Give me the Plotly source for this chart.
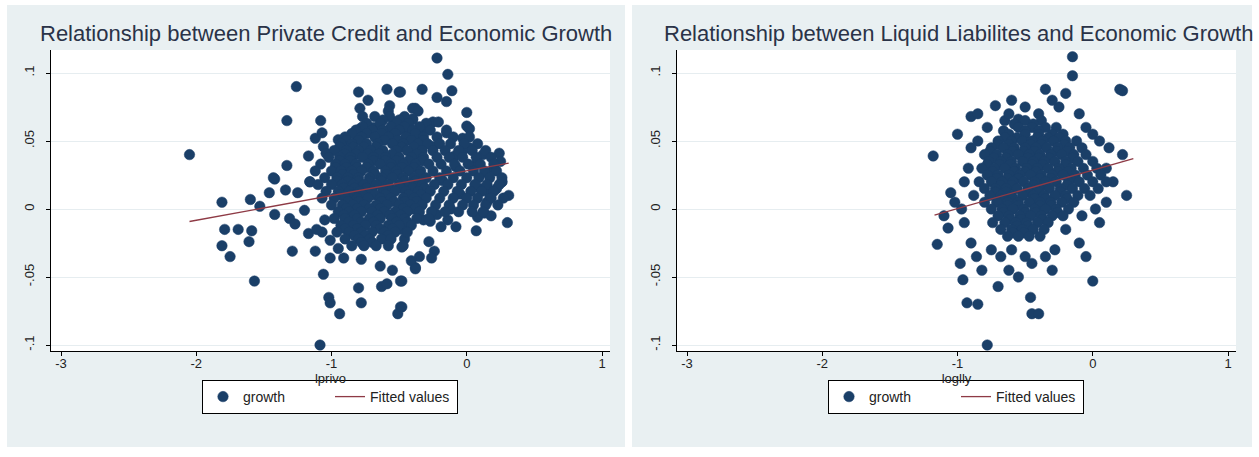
import plotly.graph_objects as go

# ---------------- data ----------------
# Left panel: growth vs lprivo (log private credit)
privo_x = [
    -2.05, -1.81, -1.79, -1.69, -1.59, -1.81, -1.75, -1.61, -1.57, -1.60,
    -1.53, -1.42, -1.46, -1.34, -1.42, -1.29, -1.25, -1.16, -1.31, -1.27,
    -1.17, -1.12, -1.06, -1.02, -1.01, -0.94, -0.80, -0.78, -0.63, -0.59,
    -0.49, -0.49, -0.51, -0.55, -0.64, -0.38, -0.48, -0.78, -0.91, -1.01,
    -0.95, -1.07, -1.01, -1.11, -1.05, -1.20, -1.085,
    -1.26, -1.33, -1.08, -1.12, -1.07, -1.17, -1.33, -1.43, -1.16, -1.06,
    -1.04, -0.95, -0.91, -0.80, -0.73, -0.79, -0.77, -0.59, -0.50, -0.57,
    -0.58, -0.54, -0.38, -0.40, -0.44, -0.43, -0.79, -0.69, -0.59, -0.81,
    -0.22, -0.14, -0.33, -0.11, -0.22, -0.15, -0.49, -0.40, -0.36, -0.40,
    0.00, -0.25, -0.21, 0.00, 0.02, -0.44, -0.33, -0.15, -0.44, -0.37,
    -0.03, 0.24, 0.26, 0.14, 0.07, -0.09, 0.26, 0.31, 0.13, 0.30,
    0.07, -0.08, -0.14, -0.19, -0.32, -0.27, -0.40, -0.42, -0.28, -0.24,
    -0.26, -0.35, -0.41, -0.38, -0.46, -0.47, -0.48, -0.48, -0.48, 0.17,
    0.15,
    -0.25, -0.08, 0.02, 0.10, 0.20, -0.18, -0.05, 0.15, 0.25, -0.12,
    0.08, -0.22, 0.18, -0.03, 0.12, 0.22,
]
privo_y = [
    0.040, 0.005, -0.015, -0.015, -0.016, -0.027, -0.035, -0.024, -0.053, 0.007,
    0.002, 0.022, 0.012, 0.014, -0.004, -0.031, 0.012, 0.020, -0.007, -0.011,
    -0.018, -0.031, -0.048, -0.065, -0.069, -0.077, -0.058, -0.069, -0.057, -0.055,
    -0.053, -0.072, -0.077, -0.045, -0.042, -0.043, -0.028, -0.037, -0.036, -0.036,
    -0.029, -0.017, -0.023, -0.015, -0.008, -0.001, -0.100,
    0.090, 0.065, 0.065, 0.052, 0.056, 0.039, 0.032, 0.023, 0.020, 0.046,
    0.041, 0.051, 0.050, 0.086, 0.080, 0.074, 0.068, 0.088, 0.086, 0.076,
    0.072, 0.064, 0.074, 0.066, 0.059, 0.051, 0.059, 0.060, 0.057, 0.051,
    0.111, 0.099, 0.088, 0.087, 0.082, 0.079, 0.086, 0.074, 0.072, 0.066,
    0.071, 0.064, 0.064, 0.061, 0.059, 0.059, 0.058, 0.056, 0.051, 0.051,
    0.043, 0.041, 0.020, 0.027, 0.033, 0.039, 0.020, 0.010, -0.003, -0.010,
    -0.016, -0.013, -0.008, -0.013, -0.008, -0.009, 0.000, 0.001, -0.024, -0.031,
    -0.036, -0.035, -0.038, -0.044, -0.022, -0.027, -0.015, -0.053, -0.072, 0.010,
    0.015,
    0.046, 0.031, 0.045, 0.015, 0.030, 0.021, 0.011, 0.005, 0.035, 0.000,
    -0.006, -0.004, -0.005, 0.052, 0.040, 0.015,
]
# dense core of the left cloud, listed row by row (growth level, lprivo values)
privo_core = [
    (0.068, [-0.68, -0.57, -0.46]),
    (0.0655, [-0.62, -0.50]),
    (0.063, [-0.74, -0.64, -0.52, -0.43, -0.30]),
    (0.0605, [-0.77, -0.56, -0.46, -0.35]),
    (0.058, [-0.82, -0.70, -0.62, -0.50, -0.40, -0.27, -0.15]),
    (0.0555, [-0.85, -0.74, -0.63, -0.53, -0.38]),
    (0.053, [-0.90, -0.78, -0.68, -0.58, -0.45, -0.32, -0.22, -0.10, 0.02]),
    (0.0505, [-0.89, -0.80, -0.61, -0.51, -0.41, -0.32]),
    (0.048, [-0.93, -0.85, -0.74, -0.66, -0.55, -0.47, -0.36, -0.29, -0.20, -0.12, -0.02, 0.08]),
    (0.0455, [-0.94, -0.84, -0.76, -0.67, -0.48, -0.39]),
    (0.043, [-0.98, -0.89, -0.80, -0.71, -0.62, -0.52, -0.44, -0.33, -0.25, -0.16, -0.06, 0.04, 0.14]),
    (0.0405, [-0.90, -0.82, -0.73, -0.65, -0.55, -0.37]),
    (0.038, [-1.02, -0.94, -0.86, -0.77, -0.69, -0.60, -0.50, -0.41, -0.32, -0.22, -0.13, -0.03, 0.07, 0.18]),
    (0.0355, [-0.94, -0.86, -0.69, -0.60, -0.52, -0.43, -0.33]),
    (0.033, [-1.08, -0.97, -0.90, -0.82, -0.73, -0.64, -0.56, -0.47, -0.38, -0.28, -0.19, -0.09, 0.01, 0.10, 0.20]),
    (0.0305, [-0.97, -0.89, -0.81, -0.74, -0.56, -0.48, -0.39]),
    (0.028, [-1.12, -1.00, -0.93, -0.85, -0.78, -0.69, -0.60, -0.52, -0.43, -0.34, -0.25, -0.15, -0.05, 0.05, 0.13, 0.22]),
    (0.0255, [-0.92, -0.84, -0.68, -0.59, -0.51, -0.35]),
    (0.023, [-1.05, -0.96, -0.88, -0.80, -0.72, -0.63, -0.55, -0.47, -0.39, -0.30, -0.20, -0.10, 0.00, 0.09, 0.17, 0.26]),
    (0.0205, [-0.96, -0.88, -0.80, -0.72, -0.63, -0.46, -0.38]),
    (0.018, [-1.10, -1.00, -0.92, -0.84, -0.76, -0.67, -0.58, -0.50, -0.42, -0.33, -0.24, -0.14, -0.04, 0.06, 0.15, 0.24]),
    (0.0155, [-0.91, -0.83, -0.74, -0.57, -0.49, -0.40, -0.31]),
    (0.013, [-1.04, -0.95, -0.87, -0.79, -0.70, -0.62, -0.53, -0.45, -0.36, -0.27, -0.17, -0.07, 0.03, 0.11, 0.20]),
    (0.0105, [-0.94, -0.85, -0.77, -0.68, -0.60, -0.43, -0.34]),
    (0.008, [-1.07, -0.98, -0.90, -0.81, -0.73, -0.64, -0.56, -0.47, -0.39, -0.30, -0.20, -0.10, 0.00, 0.08, 0.18, 0.27]),
    (0.0055, [-0.88, -0.80, -0.63, -0.54, -0.46, -0.37]),
    (0.003, [-1.00, -0.92, -0.84, -0.76, -0.67, -0.59, -0.50, -0.42, -0.33, -0.23, -0.13, -0.03, 0.05, 0.14, 0.23]),
    (0.0005, [-0.89, -0.81, -0.72, -0.64, -0.47, -0.38]),
    (-0.002, [-0.95, -0.87, -0.78, -0.70, -0.61, -0.53, -0.44, -0.35, -0.26, -0.16, -0.06, 0.04, 0.12]),
    (-0.0045, [-0.91, -0.83, -0.66, -0.57, -0.49]),
    (-0.007, [-0.98, -0.90, -0.81, -0.72, -0.64, -0.55, -0.46, -0.37, -0.28]),
    (-0.0095, [-0.87, -0.78, -0.69, -0.52, -0.44]),
    (-0.012, [-0.93, -0.84, -0.75, -0.67, -0.58, -0.50, -0.41]),
    (-0.0145, [-0.90, -0.81, -0.64, -0.55]),
    (-0.017, [-0.96, -0.87, -0.78, -0.70, -0.61, -0.53, -0.44]),
    (-0.0195, [-0.83, -0.75, -0.58]),
    (-0.022, [-0.90, -0.80, -0.72, -0.63, -0.56]),
    (-0.0245, [-0.78, -0.70]),
    (-0.027, [-0.85, -0.76, -0.67, -0.58]),
]
privo_fit_x = [-2.05, 0.31]
privo_fit_y = [-0.0092, 0.0337]

# Right panel: growth vs loglly (log liquid liabilities)
lly_x = [
    -1.18, -1.07, -1.15, -1.05, -0.97, -0.98, -0.96, -0.93, -0.85, -0.78,
    -0.70, -0.62, -0.55, -0.45, -0.40, -0.46, -0.35, -0.28, -0.10, -0.05,
    0.00, 0.05, 0.10, 0.22, 0.25, 0.20, 0.22, 0.00, -0.15, -0.15,
    -0.20, -0.35, -0.50, -0.55, -0.65, -0.90, -0.85, -1.00, -0.90, -0.95,
    -1.10, -0.72, -0.60,
    -0.92, -0.88, -0.95, -0.90, -0.86, -1.02, -0.82, -0.75, -0.68, -0.60,
    -0.50, -0.45, -0.30, -0.20, -0.08, 0.02, 0.10, 0.15, 0.12, 0.05,
    -0.05, -0.10, -0.25, -0.40, -0.30, -0.62, -0.78, -0.85,
]
lly_y = [
    0.039, -0.014, -0.026, 0.012, 0.000, -0.040, -0.052, -0.069, -0.070, -0.100,
    -0.057, -0.045, -0.050, -0.077, -0.077, -0.065, -0.035, -0.030, -0.025, -0.035,
    -0.053, -0.010, 0.005, 0.040, 0.010, 0.088, 0.087, 0.055, 0.112, 0.098,
    0.085, 0.088, 0.075, 0.066, 0.065, 0.068, 0.070, 0.055, 0.045, 0.020,
    -0.005, 0.076, 0.080,
    0.030, 0.010, -0.010, -0.025, -0.035, 0.005, -0.045, -0.030, -0.035, -0.030,
    -0.035, -0.040, -0.045, -0.015, -0.005, 0.000, 0.030, 0.020, 0.045, 0.050,
    0.060, 0.070, 0.075, 0.070, 0.080, 0.070, 0.060, 0.050,
]
lly_core = [
    (0.065, [-0.50, -0.38]),
    (0.0625, [-0.58, -0.44]),
    (0.060, [-0.55, -0.45, -0.35, -0.27]),
    (0.0575, [-0.66, -0.50, -0.40]),
    (0.055, [-0.62, -0.50, -0.40, -0.30, -0.22]),
    (0.0525, [-0.65, -0.56, -0.41, -0.33, -0.25]),
    (0.050, [-0.70, -0.60, -0.52, -0.45, -0.37, -0.29, -0.20, -0.12]),
    (0.0475, [-0.70, -0.62, -0.46, -0.38, -0.21]),
    (0.045, [-0.75, -0.66, -0.58, -0.50, -0.42, -0.34, -0.26, -0.17, -0.08]),
    (0.0425, [-0.76, -0.59, -0.51, -0.43, -0.27, -0.19]),
    (0.040, [-0.80, -0.71, -0.63, -0.55, -0.47, -0.39, -0.31, -0.23, -0.14, -0.05]),
    (0.0375, [-0.73, -0.64, -0.48, -0.40, -0.32, -0.15]),
    (0.035, [-0.77, -0.68, -0.60, -0.52, -0.44, -0.36, -0.28, -0.20, -0.11, 0.00]),
    (0.0325, [-0.78, -0.69, -0.61, -0.45, -0.37, -0.20]),
    (0.030, [-0.82, -0.73, -0.65, -0.57, -0.49, -0.41, -0.33, -0.25, -0.16, -0.07, 0.03]),
    (0.0275, [-0.74, -0.58, -0.50, -0.42, -0.26, -0.18]),
    (0.025, [-0.78, -0.70, -0.62, -0.54, -0.46, -0.38, -0.30, -0.22, -0.13, -0.04, 0.06]),
    (0.0225, [-0.71, -0.63, -0.55, -0.39, -0.31, -0.14]),
    (0.020, [-0.84, -0.75, -0.67, -0.59, -0.51, -0.43, -0.35, -0.27, -0.18, -0.10, 0.00, 0.10]),
    (0.0175, [-0.68, -0.60, -0.44, -0.36, -0.19]),
    (0.015, [-0.80, -0.72, -0.64, -0.56, -0.48, -0.40, -0.32, -0.24, -0.15, -0.06, 0.04]),
    (0.0125, [-0.72, -0.64, -0.48, -0.40, -0.24]),
    (0.010, [-0.76, -0.68, -0.60, -0.52, -0.44, -0.36, -0.28, -0.20, -0.11, -0.02]),
    (0.0075, [-0.67, -0.59, -0.43, -0.35, -0.19]),
    (0.005, [-0.80, -0.71, -0.63, -0.55, -0.47, -0.39, -0.31, -0.23, -0.14]),
    (0.0025, [-0.63, -0.55, -0.39, -0.31]),
    (0.000, [-0.75, -0.67, -0.59, -0.51, -0.43, -0.35, -0.27, -0.18]),
    (-0.0025, [-0.66, -0.50, -0.42, -0.26]),
    (-0.005, [-0.70, -0.62, -0.54, -0.46, -0.38, -0.30, -0.22]),
    (-0.0075, [-0.61, -0.53, -0.37]),
    (-0.010, [-0.74, -0.65, -0.57, -0.49, -0.41, -0.33]),
    (-0.0125, [-0.56, -0.48]),
    (-0.015, [-0.68, -0.60, -0.52, -0.44, -0.36]),
    (-0.0175, [-0.59, -0.51]),
    (-0.020, [-0.63, -0.55, -0.47, -0.39]),
]
lly_fit_x = [-1.17, 0.30]
lly_fit_y = [-0.0045, 0.0370]

x_ticks = [-3, -2, -1, 0, 1]
y_ticks = [0.1, 0.05, 0.0, -0.05, -0.1]
y_ticktext = [".1", ".05", "0", "-.05", "-.1"]

titles = ["Relationship between Private Credit and Economic Growth",
          "Relationship between Liquid Liabilites and Economic Growth"]
x_titles = ["lprivo", "loglly"]


def expand(xs, ys, core):
    ax, ay = list(xs), list(ys)
    for yv, row in core:
        for xv in row:
            ax.append(xv)
            ay.append(yv)
    return ax, ay


# ---------------- styling ----------------
W, H = 1259, 457
NAVY = "#1a3f68"
MAROON = "#8e3a45"
PANEL = "#e9f0f2"
GRID = "#e6edf0"
FONT = "Liberation Sans, Arial, sans-serif"

px_l = (51, 610)     # plot area, left panel (pixels)
px_r = (677, 1236)   # plot area, right panel
py = (50, 351)       # top / bottom of plot areas

PX_PER_Y = 0.05 / 68.0
X_RANGE = [-3.074, 1.059]
Y_RANGE = [-0.1 - (py[1] - 345) * PX_PER_Y, 0.1 + (73 - py[0]) * PX_PER_Y]

fig = go.Figure()

panels = [
    (privo_x, privo_y, privo_core, privo_fit_x, privo_fit_y, "x", "y", "legend"),
    (lly_x, lly_y, lly_core, lly_fit_x, lly_fit_y, "x2", "y2", "legend2"),
]
for xs, ys, core, fx, fy, xa, ya, lg in panels:
    ax_, ay_ = expand(xs, ys, core)
    fig.add_trace(go.Scatter(
        x=ax_, y=ay_, mode="markers", name="growth", xaxis=xa, yaxis=ya,
        legend=lg,
        marker=dict(color=NAVY, size=10.5, symbol="circle",
                    line=dict(color=NAVY, width=0.5)),
    ))
    fig.add_trace(go.Scatter(
        x=fx, y=fy, mode="lines", name="Fitted values", xaxis=xa, yaxis=ya,
        legend=lg, line=dict(color=MAROON, width=1.3),
    ))

ydom = [1 - py[1] / H, 1 - py[0] / H]

axis_common = dict(
    showline=True, linecolor="black", linewidth=1.2, ticks="outside",
    ticklen=4, tickcolor="black", tickwidth=1, zeroline=False,
    tickfont=dict(family=FONT, size=13, color="#222"),
)
for i, (pxr, xa, ya, xt) in enumerate([(px_l, "xaxis", "yaxis", x_titles[0]),
                                       (px_r, "xaxis2", "yaxis2", x_titles[1])]):
    anchor_y = "y" if i == 0 else "y2"
    anchor_x = "x" if i == 0 else "x2"
    fig.layout[xa] = dict(
        domain=[pxr[0] / W, pxr[1] / W], range=X_RANGE, anchor=anchor_y,
        tickvals=x_ticks, ticktext=[str(t) for t in x_ticks], showgrid=False,
        ticklabelstandoff=-4,
        title=dict(text=xt, font=dict(family=FONT, size=13, color="#222"), standoff=0),
        **axis_common,
    )
    fig.layout[ya] = dict(
        domain=ydom, range=Y_RANGE, anchor=anchor_x,
        tickvals=y_ticks, ticktext=y_ticktext, tickangle=-90,
        showgrid=True, gridcolor=GRID, gridwidth=1, ticklabelstandoff=7,
        **axis_common,
    )

# panel backgrounds and white plot regions
shapes = []
for x0, x1 in [(7, 625), (632, 1252)]:
    shapes.append(dict(type="rect", xref="paper", yref="paper",
                       x0=x0 / W, x1=x1 / W, y0=1 - 447 / H, y1=1 - 5 / H,
                       fillcolor=PANEL, line=dict(width=0), layer="below"))
for xa, ya in [("x", "y"), ("x2", "y2")]:
    shapes.append(dict(type="rect", xref=f"{xa} domain", yref=f"{ya} domain",
                       x0=0, x1=1, y0=0, y1=1, fillcolor="white",
                       line=dict(width=0), layer="below"))

annotations = []
for cx, t in [(326, titles[0]), (958, titles[1])]:
    annotations.append(dict(text=t, x=cx / W, y=1 - 33 / H, xref="paper", yref="paper",
                            showarrow=False, xanchor="center", yanchor="middle",
                            font=dict(family=FONT, size=22, color="#2a3348")))

legend_common = dict(
    orientation="h", bgcolor="white", bordercolor="black", borderwidth=1,
    font=dict(family=FONT, size=14, color="#222"), xanchor="center",
    yanchor="middle", y=1 - 397 / H, itemsizing="trace",
    entrywidth=82, entrywidthmode="pixels",
)

fig.update_layout(
    width=W, height=H, autosize=False,
    margin=dict(l=0, r=0, t=0, b=0),
    paper_bgcolor="white", plot_bgcolor="rgba(0,0,0,0)",
    shapes=shapes, annotations=annotations,
    legend=dict(x=330 / W, **legend_common),
    legend2=dict(x=956 / W, **legend_common),
    showlegend=True,
)

fig.write_html("out.html")
